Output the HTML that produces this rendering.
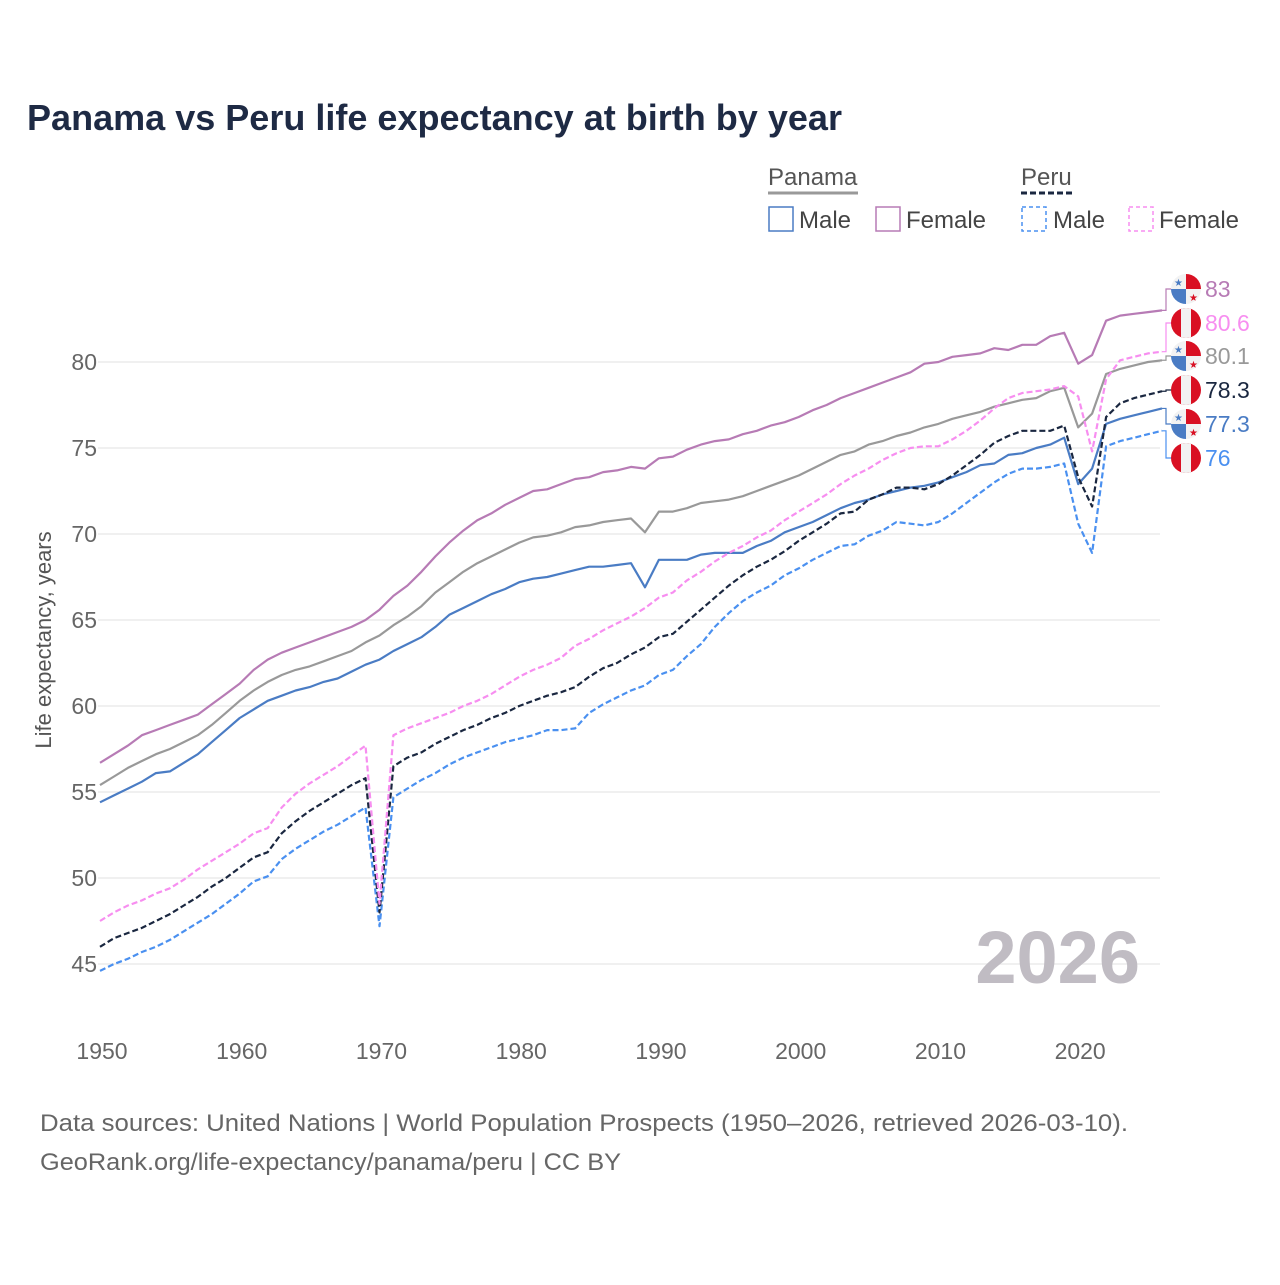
<!DOCTYPE html>
<html><head><meta charset="utf-8">
<style>
body{margin:0;background:#fff;}
svg text{font-family:"Liberation Sans",sans-serif;}
</style></head>
<body>
<svg id="chart" width="1280" height="1280" viewBox="0 0 1280 1280" xmlns="http://www.w3.org/2000/svg">
<rect width="1280" height="1280" fill="#fff"/>
<text x="27" y="130" font-size="36" font-weight="bold" fill="#1e2a44" textLength="815" lengthAdjust="spacingAndGlyphs">Panama vs Peru life expectancy at birth by year</text>
<g font-size="24" fill="#444">
  <text x="768" y="185" fill="#555">Panama</text>
  <line x1="768" y1="193" x2="858" y2="193" stroke="#999" stroke-width="3"/>
  <text x="1021" y="185" fill="#555">Peru</text>
  <line x1="1021" y1="193" x2="1075" y2="193" stroke="#1a2740" stroke-width="3" stroke-dasharray="6,3"/>
  <g><rect x="769" y="207" width="24" height="24" fill="none" stroke="#4a7cc4" stroke-width="1.5"/><text x="799" y="228">Male</text></g>
  <g><rect x="876" y="207" width="24" height="24" fill="none" stroke="#b77bb5" stroke-width="1.5"/><text x="906" y="228">Female</text></g>
  <g><rect x="1022" y="207" width="24" height="24" fill="none" stroke="#4a90f0" stroke-width="1.5" stroke-dasharray="4,3"/><text x="1053" y="228">Male</text></g>
  <g><rect x="1129" y="207" width="24" height="24" fill="none" stroke="#f78ef0" stroke-width="1.5" stroke-dasharray="4,3"/><text x="1159" y="228">Female</text></g>
</g>
<g id="grid"></g>
<g id="yticks"></g>
<g id="xticks"></g>
<text transform="translate(51,640) rotate(-90)" text-anchor="middle" font-size="22" fill="#555">Life expectancy, years</text>
<text x="1140" y="983" text-anchor="end" font-size="74" font-weight="bold" fill="#c0bcc3">2026</text>
<g id="series"></g>
<g id="endlabels"></g>
<g font-size="24" fill="#666">
<text x="40" y="1131" textLength="1088" lengthAdjust="spacingAndGlyphs">Data sources: United Nations | World Population Prospects (1950–2026, retrieved 2026-03-10).</text>
<text x="40" y="1170" textLength="581" lengthAdjust="spacingAndGlyphs">GeoRank.org/life-expectancy/panama/peru | CC BY</text>
</g>
</svg>
<script>
const firstYear = 1950;
const lastYear = 2026;
const yTicks = [45, 50, 55, 60, 65, 70, 75, 80];
const xTicks = [1950, 1960, 1970, 1980, 1990, 2000, 2010, 2020];
const panamaFemale = [56.7,57.2,57.7,58.3,58.6,58.9,59.2,59.5,60.1,60.7,61.3,62.1,62.7,63.1,63.4,63.7,64.0,64.3,64.6,65.0,65.6,66.4,67.0,67.8,68.7,69.5,70.2,70.8,71.2,71.7,72.1,72.5,72.6,72.9,73.2,73.3,73.6,73.7,73.9,73.8,74.4,74.5,74.9,75.2,75.4,75.5,75.8,76.0,76.3,76.5,76.8,77.2,77.5,77.9,78.2,78.5,78.8,79.1,79.4,79.9,80.0,80.3,80.4,80.5,80.8,80.7,81.0,81.0,81.5,81.7,79.9,80.4,82.4,82.7,82.8,82.9,83.0];
const panamaTotal = [55.4,55.9,56.4,56.8,57.2,57.5,57.9,58.3,58.9,59.6,60.3,60.9,61.4,61.8,62.1,62.3,62.6,62.9,63.2,63.7,64.1,64.7,65.2,65.8,66.6,67.2,67.8,68.3,68.7,69.1,69.5,69.8,69.9,70.1,70.4,70.5,70.7,70.8,70.9,70.1,71.3,71.3,71.5,71.8,71.9,72.0,72.2,72.5,72.8,73.1,73.4,73.8,74.2,74.6,74.8,75.2,75.4,75.7,75.9,76.2,76.4,76.7,76.9,77.1,77.4,77.6,77.8,77.9,78.3,78.5,76.2,77.0,79.3,79.6,79.8,80.0,80.1];
const panamaMale = [54.4,54.8,55.2,55.6,56.1,56.2,56.7,57.2,57.9,58.6,59.3,59.8,60.3,60.6,60.9,61.1,61.4,61.6,62.0,62.4,62.7,63.2,63.6,64.0,64.6,65.3,65.7,66.1,66.5,66.8,67.2,67.4,67.5,67.7,67.9,68.1,68.1,68.2,68.3,66.9,68.5,68.5,68.5,68.8,68.9,68.9,68.9,69.3,69.6,70.1,70.4,70.7,71.1,71.5,71.8,72.0,72.3,72.5,72.7,72.8,73.0,73.3,73.6,74.0,74.1,74.6,74.7,75.0,75.2,75.6,72.9,73.8,76.4,76.7,76.9,77.1,77.3];
const peruFemale = [47.5,48.0,48.4,48.7,49.1,49.4,49.9,50.5,51.0,51.5,52.0,52.6,52.9,54.1,54.9,55.5,56.0,56.5,57.1,57.7,48.5,58.3,58.7,59.0,59.3,59.6,60.0,60.3,60.7,61.2,61.7,62.1,62.4,62.8,63.5,63.9,64.4,64.8,65.2,65.7,66.3,66.6,67.3,67.8,68.4,68.9,69.3,69.8,70.2,70.8,71.3,71.8,72.3,72.9,73.4,73.8,74.3,74.7,75.0,75.1,75.1,75.5,76.0,76.6,77.3,77.9,78.2,78.3,78.4,78.6,78.0,74.8,79.0,80.1,80.3,80.5,80.6];
const peruTotal = [46.0,46.5,46.8,47.1,47.5,47.9,48.4,48.9,49.5,50.0,50.6,51.2,51.5,52.6,53.3,53.9,54.4,54.9,55.4,55.8,48.0,56.5,57.0,57.3,57.8,58.2,58.6,58.9,59.3,59.6,60.0,60.3,60.6,60.8,61.1,61.7,62.2,62.5,63.0,63.4,64.0,64.2,64.9,65.6,66.3,67.0,67.6,68.1,68.5,69.0,69.6,70.1,70.6,71.2,71.3,72.0,72.3,72.7,72.7,72.6,72.9,73.4,74.0,74.6,75.3,75.7,76.0,76.0,76.0,76.3,73.3,71.6,76.8,77.6,77.9,78.1,78.3];
const peruMale = [44.6,45.0,45.3,45.7,46.0,46.4,46.9,47.4,47.9,48.5,49.1,49.8,50.1,51.1,51.7,52.2,52.7,53.1,53.6,54.1,47.2,54.7,55.2,55.7,56.1,56.6,57.0,57.3,57.6,57.9,58.1,58.3,58.6,58.6,58.7,59.6,60.1,60.5,60.9,61.2,61.8,62.1,62.9,63.6,64.6,65.4,66.1,66.6,67.0,67.6,68.0,68.5,68.9,69.3,69.4,69.9,70.2,70.7,70.6,70.5,70.7,71.2,71.8,72.4,73.0,73.5,73.8,73.8,73.9,74.1,70.6,68.9,75.1,75.4,75.6,75.8,76.0];

const NS = "http://www.w3.org/2000/svg";
const X0 = 100, X1 = 1162, Y80 = 362, PER = 17.2;
function xs(year){ return X0 + (year - firstYear) * (X1 - X0) / (lastYear - firstYear); }
function ys(v){ return Y80 - (v - 80) * PER; }
function mk(tag, attrs, parent){ const e = document.createElementNS(NS, tag); for (const k in attrs) e.setAttribute(k, attrs[k]); parent.appendChild(e); return e; }

const grid = document.getElementById('grid');
const yt = document.getElementById('yticks');
yTicks.forEach(v => {
  const l = mk('line', {x1: 98, x2: 1160, y1: ys(v), y2: ys(v), stroke: '#ebebeb', 'stroke-width': 1.5}, grid);
  
  
  const t = mk('text', {x: 97, y: ys(v) + 8, 'text-anchor': 'end', 'font-size': 23, fill: '#666'}, yt);
  t.textContent = v;
  
  
});
const xt = document.getElementById('xticks');
xTicks.forEach(yr => {
  const t = mk('text', {x: xs(yr) + 2, y: 1059, 'text-anchor': 'middle', 'font-size': 23, fill: '#666'}, xt);
  t.textContent = yr;
  
  
});

const seriesDefs = [
  {name: 'panama-female', data: panamaFemale, color: '#b77bb5', dash: null, flag: 'pa', labelColor: '#b77bb5', ly: 289},
  {name: 'peru-female', data: peruFemale, color: '#f78ef0', dash: '6,3', flag: 'pe', labelColor: '#f78ef0', ly: 323},
  {name: 'panama-total', data: panamaTotal, color: '#999999', dash: null, flag: 'pa', labelColor: '#999999', ly: 356},
  {name: 'peru-total', data: peruTotal, color: '#1a2740', dash: '6,3', flag: 'pe', labelColor: '#1a2740', ly: 390},
  {name: 'panama-male', data: panamaMale, color: '#4a7cc4', dash: null, flag: 'pa', labelColor: '#4a7cc4', ly: 424},
  {name: 'peru-male', data: peruMale, color: '#4a90f0', dash: '6,3', flag: 'pe', labelColor: '#4a90f0', ly: 458}
];
const sg = document.getElementById('series');
const eg = document.getElementById('endlabels');
[...seriesDefs].reverse().forEach(s => {
  const d = s.data.map((v, i) => (i ? 'L' : 'M') + xs(firstYear + i).toFixed(1) + ',' + ys(v).toFixed(1)).join(' ');
  const p = mk('path', {d: d, fill: 'none', stroke: s.color, 'stroke-width': 2.2, 'stroke-linejoin': 'round'}, sg);
  if (s.dash) p.setAttribute('stroke-dasharray', s.dash);
  
  
});
seriesDefs.forEach(s => {
  const last = s.data[s.data.length - 1];
  const ey = ys(last);
  const g = mk('g', {}, eg);
  
  
  mk('path', {d: `M${X1},${ey} L1166,${ey} L1166,${s.ly} L1172,${s.ly}`, fill: 'none', stroke: s.color, 'stroke-width': 1.2}, g);
  const cx = 1186, cy = s.ly, r = 15;
  const cp = 'clip-' + s.name;
  const cl = mk('clipPath', {id: cp}, g);
  mk('circle', {cx: cx, cy: cy, r: r}, cl);
  const fg = mk('g', {'clip-path': `url(#${cp})`}, g);
  if (s.flag === 'pe') {
    mk('rect', {x: cx - r, y: cy - r, width: 2 * r, height: 2 * r, fill: '#d91023'}, fg);
    mk('rect', {x: cx - r / 3, y: cy - r, width: 2 * r / 3, height: 2 * r, fill: '#f2f2f2'}, fg);
  } else {
    mk('rect', {x: cx - r, y: cy - r, width: 2 * r, height: 2 * r, fill: '#f2f2f2'}, fg);
    mk('rect', {x: cx, y: cy - r, width: r, height: r, fill: '#d91023'}, fg);
    mk('rect', {x: cx - r, y: cy, width: r, height: r, fill: '#4a7cc4'}, fg);
    const st1 = mk('text', {x: cx - 7.5, y: cy - 3, 'text-anchor': 'middle', 'font-size': 10, fill: '#4a7cc4'}, fg); st1.textContent = '★';
    const st2 = mk('text', {x: cx + 7.5, y: cy + 12, 'text-anchor': 'middle', 'font-size': 10, fill: '#d91023'}, fg); st2.textContent = '★';
  }
  const t = mk('text', {x: 1205, y: cy + 8, 'font-size': 23, fill: s.labelColor}, g);
  t.textContent = (Math.round(last * 10) / 10).toString();
});
</script>
</body></html>
